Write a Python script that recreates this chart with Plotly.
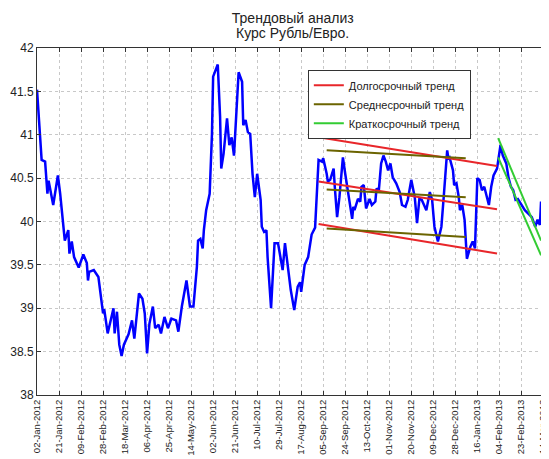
import datetime as dt
import plotly.graph_objects as go

# ---- data ----
start_date = dt.date(2012, 1, 2)
# days since 02-Jan-2012
day_offsets = [0, 2, 4, 7, 9, 10, 14, 18, 20, 24, 27, 28, 30, 32, 36, 40, 43, 44, 45, 49,
               53, 57, 58, 61, 66, 67, 69, 71, 73, 75, 79, 82, 84, 88, 91, 93, 95, 97, 100, 102,
               105, 107, 110, 113, 116, 120, 122, 125, 129, 132, 135, 138, 139, 141, 143, 144, 146, 149, 151, 152,
               154, 156, 158, 159, 161, 164, 166, 168, 170, 174, 177, 178, 180, 182, 184, 186, 188, 190, 193, 194,
               196, 198, 199, 202, 205, 208, 212, 214, 219, 222, 225, 227, 228, 231, 234, 237, 240, 243, 246, 247,
               250, 251, 253, 256, 257, 259, 261, 264, 266, 269, 272, 273, 274, 277, 279, 280, 282, 284, 287, 289,
               292, 293, 295, 297, 299, 301, 303, 305, 307, 310, 313, 315, 318, 320, 323, 326, 328, 330, 332, 336,
               339, 341, 343, 346, 349, 351, 354, 355, 356, 359, 360, 362, 364, 365, 367, 369, 371, 374, 376, 378,
               380, 382, 384, 386, 388, 390, 392, 394, 397, 399, 400, 402, 405, 407, 409, 411, 413, 415, 418, 421,
               424, 427, 430, 432, 434, 435, 437, 440, 441]
rate = [41.52, 41.13, 40.71, 40.69, 40.32, 40.47, 40.19, 40.53, 40.32, 39.78, 39.90, 39.63, 39.77, 39.59, 39.47, 39.62, 39.52, 39.32, 39.42, 39.44,
        39.36, 38.94, 38.99, 38.71, 39.00, 38.71, 38.96, 38.58, 38.45, 38.58, 38.70, 38.86, 38.65, 39.17, 39.11, 38.94, 38.48, 38.82, 39.02, 38.77,
        38.81, 38.71, 38.90, 38.77, 38.88, 38.86, 38.73, 39.02, 39.32, 39.02, 39.02, 39.48, 39.78, 39.80, 39.69, 39.90, 40.13, 40.32, 41.01, 41.67,
        41.74, 41.81, 41.21, 40.61, 40.78, 41.19, 40.88, 40.97, 40.76, 41.72, 41.61, 41.11, 41.17, 41.03, 41.01, 40.55, 40.28, 40.55, 40.25, 39.94,
        39.88, 39.90, 39.59, 39.00, 39.75, 39.75, 39.44, 39.75, 39.21, 38.98, 39.25, 39.30, 39.19, 39.50, 39.59, 39.85, 39.93, 40.71, 40.69, 40.73,
        40.55, 40.46, 40.48, 40.61, 40.40, 40.05, 40.28, 40.74, 40.55, 40.28, 40.03, 40.17, 40.13, 40.26, 40.23, 40.40, 40.42, 40.15, 40.26, 40.19,
        40.23, 40.38, 40.36, 40.67, 40.76, 40.69, 40.59, 40.67, 40.51, 40.44, 40.34, 40.19, 40.17, 40.25, 40.48, 40.28, 39.98, 40.26, 40.25, 40.13,
        40.34, 40.25, 39.94, 39.77, 39.94, 40.28, 40.82, 40.73, 40.74, 40.59, 40.42, 40.44, 40.28, 40.13, 40.19, 40.02, 39.57, 39.71, 39.77, 39.69,
        40.50, 40.48, 40.36, 40.40, 40.30, 40.19, 40.40, 40.53, 40.61, 40.80, 40.88, 40.76, 40.67, 40.50, 40.40, 40.36, 40.25, 40.26, 40.19, 40.13,
        40.09, 40.05, 39.94, 40.02, 39.96, 40.23, 40.02, 40.03, 39.96]

# trend lines: (start date, end date) and (start value, end value) per line
long_dates = ["2012-09-01", "2013-02-02"]
long_values = [[40.97, 40.64], [40.46, 40.14], [39.97, 39.63]]
mid_dates = ["2012-09-08", "2013-01-06"]
mid_values = [[40.82, 40.73], [40.37, 40.28], [39.92, 39.82]]
short_dates = ["2013-02-03", "2013-03-12"]
short_values = [[40.96, 39.78], [40.74, 39.61]]

trend_names = ["Долгосрочный тренд", "Среднесрочный тренд", "Краткосрочный тренд"]
title_lines = ["Трендовый анализ", "Курс Рубль/Евро."]

tick_step_days = 19
n_ticks = 24
x_end = "2013-03-18"

# ---- figure ----
dates = [start_date + dt.timedelta(days=d) for d in day_offsets]
tick_dates = [start_date + dt.timedelta(days=tick_step_days * i) for i in range(n_ticks)]
tick_text = [d.strftime("%d-%b-%Y") for d in tick_dates]

fig = go.Figure()
fig.add_trace(go.Scatter(x=dates, y=rate, mode="lines", showlegend=False,
                         line=dict(color="#0000FF", width=2.5)))


def add_trend(name, dts, vals, color):
    xs, ys = [], []
    for v in vals:
        xs += [dts[0], dts[1], None]
        ys += [v[0], v[1], None]
    fig.add_trace(go.Scatter(x=xs, y=ys, mode="lines", name=name,
                             line=dict(color=color, width=2), connectgaps=False))


add_trend(trend_names[0], long_dates, long_values, "#E8262A")
add_trend(trend_names[1], mid_dates, mid_values, "#6B6400")
add_trend(trend_names[2], short_dates, short_values, "#33CC33")

# the page places the figure 8px from the top-left corner of the window
W, H, L, T = 541, 451, 29, 40
plot_h = H - T - 64
font_family = "Liberation Sans, Arial, sans-serif"
title_x = (292.8 - 8 - L) / (W - L - 1)
fig.update_layout(
    width=W, height=H,
    margin=dict(l=L, r=1, t=T, b=64, autoexpand=False),
    paper_bgcolor="white", plot_bgcolor="white",
    font=dict(family=font_family, size=11, color="#222"),
    title=dict(text=title_lines[0], x=title_x, xref="paper", xanchor="center",
               y=1 - 10 / H, yanchor="middle", font=dict(size=14, color="#222")),
    legend=dict(x=0.530, y=0.937, xanchor="left", yanchor="top", bgcolor="white",
                bordercolor="#333", borderwidth=1, font=dict(size=11, color="#222"),
                tracegroupgap=0),
)
fig.add_annotation(text=title_lines[1], x=title_x, xref="paper", xanchor="center",
                   y=1 + (T - 25) / plot_h, yref="paper", yanchor="middle",
                   showarrow=False, font=dict(size=14, color="#222"))
fig.update_xaxes(range=[start_date.isoformat(), x_end], tickmode="array",
                 tickvals=tick_dates, ticktext=tick_text, tickangle=-90,
                 tickfont=dict(size=9.5), automargin=False,
                 showgrid=True, gridcolor="#c8c8c8", griddash="dot", gridwidth=1,
                 showline=True, mirror="ticks", linecolor="#333", linewidth=1,
                 ticks="inside", ticklen=4, tickcolor="#333", zeroline=False)
fig.update_yaxes(range=[38, 42], dtick=0.5, tick0=38,
                 tickfont=dict(size=12), automargin=False,
                 showgrid=True, gridcolor="#c8c8c8", griddash="dot", gridwidth=1,
                 showline=True, mirror="ticks", linecolor="#333", linewidth=1,
                 ticks="inside", ticklen=4, tickcolor="#333", zeroline=False)

fig.write_html("out.html")
